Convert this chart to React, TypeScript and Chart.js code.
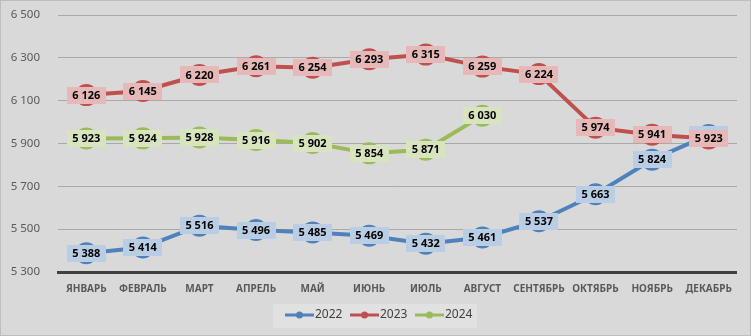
import React, { useEffect, useRef } from "react";
import { Chart, registerables } from "chart.js";

Chart.register(...registerables);

const months = [
  "ЯНВАРЬ", "ФЕВРАЛЬ", "МАРТ", "АПРЕЛЬ", "МАЙ", "ИЮНЬ",
  "ИЮЛЬ", "АВГУСТ", "СЕНТЯБРЬ", "ОКТЯБРЬ", "НОЯБРЬ", "ДЕКАБРЬ",
];
const values2022 = [5388, 5414, 5516, 5496, 5485, 5469, 5432, 5461, 5537, 5663, 5824, 5940];
const values2023 = [6126, 6145, 6220, 6261, 6254, 6293, 6315, 6259, 6224, 5974, 5941, 5923];
const values2024 = [5923, 5924, 5928, 5916, 5902, 5854, 5871, 6030, null, null, null, null];
const seriesNames = ["2022", "2023", "2024"];
const lineColors = ["#4f81bd", "#c0504d", "#9bbb59"];
const labelFills = ["#b9cde5", "#e6b9b8", "#d7e4bd"];

const fmt = (v: number) => {
  const s = String(Math.round(v));
  return s.replace(/\B(?=(\d{3})+(?!\d))/g, " ");
};

const bgPlugin = {
  id: "bg",
  beforeDraw(chart: any) {
    const { ctx, width, height } = chart;
    ctx.save();
    ctx.fillStyle = "#d9d9d9";
    ctx.fillRect(0, 0, width, height);
    ctx.strokeStyle = "#bdbdbd";
    ctx.lineWidth = 1;
    ctx.strokeRect(0.5, 0.5, width - 1, height - 1);
    ctx.restore();
  },
};

const labelPlugin = {
  id: "valueLabels",
  afterDatasetsDraw(chart: any) {
    const { ctx } = chart;
    ctx.save();
    ctx.font = "bold 11px 'Noto Sans'";
    ctx.textAlign = "center";
    ctx.textBaseline = "middle";
    chart.data.datasets.forEach((ds: any, i: number) => {
      const meta = chart.getDatasetMeta(i);
      meta.data.forEach((pt: any, j: number) => {
        const v = ds.data[j];
        if (v == null) return;
        const text = fmt(v);
        const w = ctx.measureText(text).width + 11;
        const h = 17;
        ctx.fillStyle = labelFills[i];
        ctx.fillRect(Math.round(pt.x - w / 2), Math.round(pt.y - h / 2), Math.round(w), h);
        ctx.fillStyle = "#000000";
        ctx.fillText(text, pt.x, pt.y + 0.5);
      });
    });
    ctx.restore();
  },
};

const legendPlugin = {
  id: "customLegend",
  afterDraw(chart: any) {
    const { ctx } = chart;
    ctx.save();
    ctx.fillStyle = "#e1e1e1";
    ctx.fillRect(273, 304, 204, 24);
    const starts = [285, 350, 415];
    ctx.font = "12px 'Noto Sans'";
    ctx.textBaseline = "middle";
    ctx.textAlign = "left";
    const y = 315;
    seriesNames.forEach((name, i) => {
      const x = starts[i];
      ctx.strokeStyle = lineColors[i];
      ctx.lineWidth = 3;
      ctx.beginPath();
      ctx.moveTo(x, y);
      ctx.lineTo(x + 29, y);
      ctx.stroke();
      ctx.fillStyle = lineColors[i];
      ctx.beginPath();
      ctx.arc(x + 14.5, y, 3.5, 0, Math.PI * 2);
      ctx.fill();
      ctx.fillStyle = "#404040";
      ctx.fillText(name, x + 30, y);
    });
    ctx.restore();
  },
};

export default function App() {
  const ref = useRef<HTMLCanvasElement | null>(null);
  useEffect(() => {
    if (!ref.current) return;
    const allSeries = [values2022, values2023, values2024];
    const chart = new Chart(ref.current, {
      type: "line",
      data: {
        labels: months,
        datasets: allSeries.map((vals, i) => ({
          label: seriesNames[i],
          data: vals,
          borderColor: lineColors[i],
          backgroundColor: lineColors[i],
          borderWidth: 4,
          pointRadius: 11,
          pointBorderWidth: 0,
          pointBackgroundColor: lineColors[i],
          tension: 0,
          spanGaps: false,
        })),
      },
      options: {
        animation: false,
        responsive: false,
        maintainAspectRatio: false,
        layout: { padding: { top: 15, right: 14, left: 0, bottom: 0 } },
        plugins: {
          legend: { display: false },
          tooltip: { enabled: false },
        },
        scales: {
          x: {
            offset: true,
            grid: {
              display: true,
              drawOnChartArea: false,
              drawTicks: true,
              tickLength: 11,
              color: "rgba(0,0,0,0)",
              tickColor: "rgba(0,0,0,0)",
            },
            border: { display: true, color: "#404040", width: 3 },
            ticks: {
              color: "#595959",
              font: { family: "'Noto Sans'", size: 10, weight: "bold" },
              padding: 0,
              autoSkip: false,
              maxRotation: 0,
            },
            afterFit: (scale: any) => {
              scale.height = 64;
              scale.paddingLeft = 0;
              scale.paddingRight = 0;
            },
          },
          y: {
            min: 5300,
            max: 6500,
            grid: {
              color: "#a9a9a9",
              lineWidth: 1,
              drawTicks: true,
              tickLength: 18,
              tickColor: "rgba(0,0,0,0)",
            },
            border: { display: false },
            ticks: {
              stepSize: 200,
              color: "#595959",
              font: { family: "'Noto Sans'", size: 11.5 },
              padding: 0,
              callback: (v: any) => fmt(Number(v)),
            },
            afterFit: (scale: any) => {
              scale.width = 58;
              scale.paddingTop = 0;
              scale.paddingBottom = 0;
            },
          },
        },
      },
      plugins: [bgPlugin, labelPlugin, legendPlugin],
    });
    return () => chart.destroy();
  }, []);
  return (
    <div
      style={{
        position: "fixed",
        left: 0,
        top: 0,
        width: 751,
        height: 336,
        background: "#d9d9d9",
        boxShadow: "inset 0 0 0 1px #bdbdbd",
      }}
    >
      <div
        style={{
          position: "absolute",
          left: 0,
          top: 0,
          width: 737,
          height: 336,
          overflow: "hidden",
        }}
      >
        <canvas ref={ref} width={751} height={336} style={{ display: "block" }} />
      </div>
    </div>
  );
}
